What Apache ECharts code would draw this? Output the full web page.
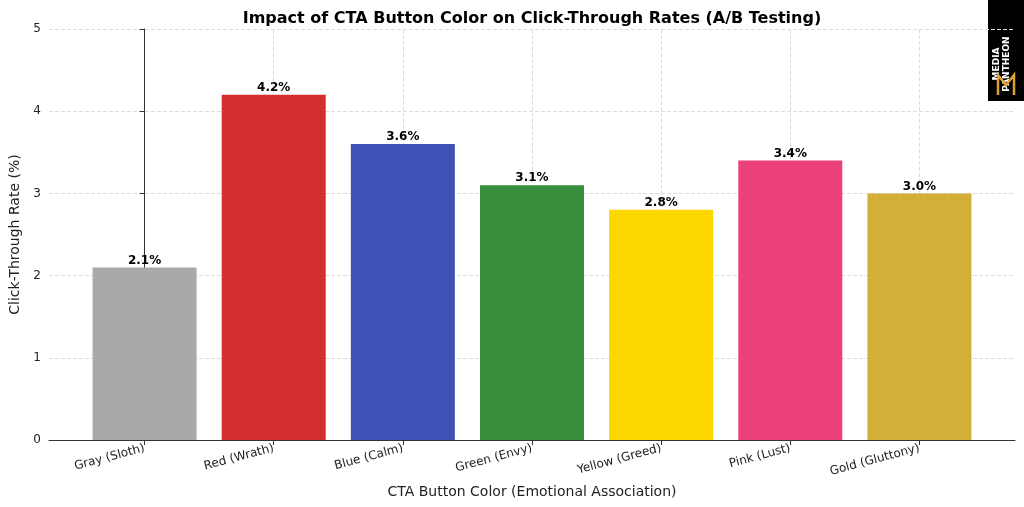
<!DOCTYPE html>
<html>
<head>
<meta charset="utf-8">
<script src="https://cdn.jsdelivr.net/npm/echarts@6/dist/echarts.min.js"></script>
<style>html,body{margin:0;padding:0;background:#fff}#chart{width:1024px;height:507px}</style>
</head>
<body>
<div id="chart"></div>
<script>
// data
var categories = ['Gray (Sloth)', 'Red (Wrath)', 'Blue (Calm)', 'Green (Envy)', 'Yellow (Greed)', 'Pink (Lust)', 'Gold (Gluttony)'];
var ctrValues = [2.1, 4.2, 3.6, 3.1, 2.8, 3.4, 3.0];
var barColors = ['#a9a9a9', '#d32f2f', '#3f51b5', '#388e3c', '#ffd700', '#ec407a', '#d4af37'];
var yTicks = [0, 1, 2, 3, 4, 5];

var positions = categories.map(function (c, i) { return i; });

var chart = echarts.init(document.getElementById('chart'), null, { renderer: 'canvas' });
var font = 'DejaVu Sans';

var option = {
	animation: false,
	textStyle: { fontFamily: font },
	title: {
		text: 'Impact of CTA Button Color on Click-Through Rates (A/B Testing)',
		left: 527, top: 6, textAlign: 'center',
		textStyle: { fontFamily: font, fontSize: 16, fontWeight: 'bold', color: '#000' }
	},
	grid: { left: 43, right: 9, top: 29, bottom: 67 },
	xAxis: {
		type: 'value',
		min: -0.74, max: 6.74,
		name: 'CTA Button Color (Emotional Association)',
		nameLocation: 'middle', nameGap: 45,
		nameTextStyle: { fontSize: 14, color: '#222' },
		axisLine: { lineStyle: { color: '#333' } },
		axisTick: { show: true, customValues: positions, lineStyle: { color: '#333' } },
		axisLabel: {
			customValues: positions, rotate: 15, fontSize: 12, color: '#222', margin: 8,
			formatter: function (v) { return categories[Math.round(v)]; }
		},
		splitLine: { show: true, lineStyle: { type: 'dashed', color: '#ddd' } }
	},
	yAxis: {
		type: 'value', min: 0, max: 5, interval: 1,
		name: 'Click-Through Rate (%)',
		nameLocation: 'middle', nameGap: 27,
		nameTextStyle: { fontSize: 14, color: '#222' },
		axisLine: { show: true, lineStyle: { color: '#333' } },
		axisTick: { show: true, lineStyle: { color: '#333' } },
		axisLabel: { fontSize: 12, color: '#222', formatter: function (v) { return yTicks.indexOf(v) >= 0 ? String(v) : ''; } },
		splitLine: { show: true, lineStyle: { type: 'dashed', color: '#ddd' } }
	},
	series: [{
		type: 'bar',
		barWidth: 104,
		data: ctrValues.map(function (v, i) {
			return { value: [i, v], itemStyle: { color: barColors[i] } };
		}),
		label: {
			show: true, position: 'top', distance: 1,
			fontSize: 12, fontWeight: 'bold', color: '#000',
			formatter: function (p) { return p.value[1].toFixed(1) + '%'; }
		}
	}],
	graphic: [
		{ type: 'rect', shape: { x: 988, y: 0, width: 36, height: 101 }, style: { fill: '#000' } },
		{ type: 'text', x: 1002, y: 64, rotation: Math.PI / 2,
		  style: { text: 'MEDIA\nPANTHEON', fill: '#fff', font: 'bold 9px "DejaVu Sans"', align: 'center', verticalAlign: 'middle', lineHeight: 10 } },
		{ type: 'polyline', shape: { points: [[998, 95], [998, 75], [1006, 85], [1014, 75], [1014, 95]] },
		  style: { stroke: '#e0a030', lineWidth: 2.5, fill: null } }
	]
};
chart.setOption(option);
</script>
</body>
</html>
